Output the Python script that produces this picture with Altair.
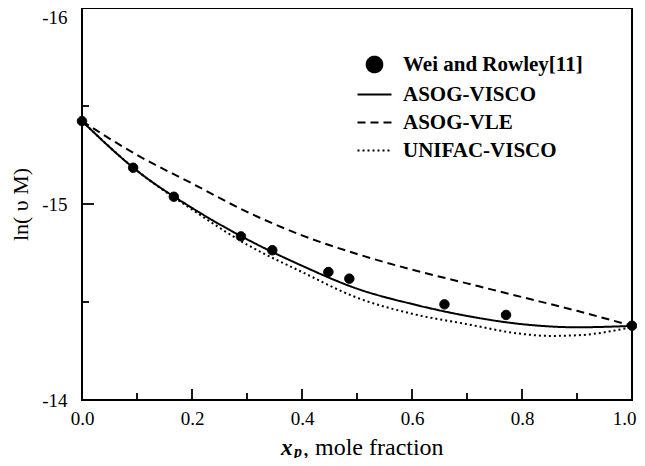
import altair as alt
import pandas as pd

FONT = "Liberation Serif"

# ---- data ----
series_names = ["Wei and Rowley[11]", "ASOG-VISCO", "ASOG-VLE", "UNIFAC-VISCO"]

x_pts = [0.0, 0.093, 0.167, 0.289, 0.346, 0.448, 0.486, 0.659, 0.771, 1.0]
y_pts = [-15.423, -15.185, -15.037, -14.835, -14.764, -14.653, -14.619, -14.488, -14.434, -14.379]

x_grid = [0.0, 0.1, 0.2, 0.3, 0.4, 0.5, 0.6, 0.7, 0.8, 0.9, 1.0]
asog_visco = [-15.423, -15.17, -14.98, -14.82, -14.685, -14.568, -14.49, -14.429, -14.387, -14.371, -14.378]
asog_vle = [-15.423, -15.25, -15.105, -14.96, -14.84, -14.745, -14.665, -14.595, -14.525, -14.455, -14.378]
unifac_x = [0.0, 0.1, 0.2, 0.3, 0.4, 0.5, 0.6, 0.7, 0.8, 0.85, 0.9, 1.0]
unifac_visco = [-15.423, -15.17, -14.972, -14.793, -14.653, -14.522, -14.44, -14.387, -14.337, -14.327, -14.33, -14.372]

x_major = [0.0, 0.2, 0.4, 0.6, 0.8, 1.0]
x_minor = [0.1, 0.3, 0.5, 0.7, 0.9]
y_major = [-16, -15, -14]
y_minor = [-15.5, -14.5]

# ---- tables ----
pts = pd.DataFrame({"x": x_pts, "y": y_pts, "series": series_names[0]})
lines = pd.concat([
    pd.DataFrame({"x": x_grid, "y": asog_visco, "series": series_names[1]}),
    pd.DataFrame({"x": x_grid, "y": asog_vle, "series": series_names[2]}),
    pd.DataFrame({"x": unifac_x, "y": unifac_visco, "series": series_names[3]}),
])
xt_major = pd.DataFrame({"x": x_major})
xt_minor = pd.DataFrame({"x": x_minor})
yt_major = pd.DataFrame({"y": y_major})
yt_minor = pd.DataFrame({"y": y_minor})
one = pd.DataFrame({"a": [0]})

W, H = 550, 392

xscale = alt.Scale(domain=[0, 1], nice=False, zero=False)
yscale = alt.Scale(domain=[-16, -14], reverse=True, nice=False, zero=False)

xaxis = alt.Axis(values=x_major, format=".1f", ticks=False, domain=False, grid=False,
                 labelFont=FONT, labelFontSize=19, labelColor="black", labelPadding=9,
                 labelFlush=False,
                 labelAlign={"condition": {"test": "datum.value == 1", "value": "right"},
                             "value": "center"},
                 labelOffset={"condition": {"test": "datum.value == 1", "value": 4},
                              "value": 0},
                 title=None)
yaxis = alt.Axis(values=y_major, labelExpr="'' + datum.value", ticks=False, domain=False,
                 grid=False, labelFont=FONT, labelFontSize=19, labelColor="black",
                 labelPadding=15, labelFlush=False,
                 labelBaseline={"condition": {"test": "datum.value == -16", "value": "top"},
                                "value": "middle"},
                 title="ln( \u03c5 M)", titleFont=FONT, titleFontSize=22,
                 titleFontWeight="normal", titleColor="black", titleX=-62, titleY=196,
                 titleBaseline="middle")


def X(f):
    return alt.X(f"{f}:Q", scale=xscale, axis=xaxis)


def Y(f):
    return alt.Y(f"{f}:Q", scale=yscale, axis=yaxis)


circle_path = "M-0.92,0A0.92,0.92 0 1,0 0.92,0A0.92,0.92 0 1,0 -0.92,0Z"
line_path = "M-2,0L2,0"

legend = alt.Legend(title=None, orient="none", legendX=282, legendY=46,
                    labelFont=FONT, labelFontSize=21, labelFontWeight="bold",
                    labelColor="black", labelLimit=400, symbolSize=289, symbolStrokeWidth=2,
                    rowPadding=6, labelOffset=18, padding=0)

tick_kw = dict(color="black", strokeWidth=1.8)
xmaj = alt.Chart(xt_major).mark_rule(**tick_kw).encode(x=X("x"), y=alt.value(H), y2=alt.value(H - 11))
xmin = alt.Chart(xt_minor).mark_rule(**tick_kw).encode(x=X("x"), y=alt.value(H), y2=alt.value(H - 7))
ymaj = alt.Chart(yt_major).mark_rule(**tick_kw).encode(y=Y("y"), x=alt.value(0), x2=alt.value(12))
ymin = alt.Chart(yt_minor).mark_rule(**tick_kw).encode(y=Y("y"), x=alt.value(0), x2=alt.value(7))

dash_scale = alt.Scale(domain=series_names, range=[[1, 0], [1, 0], [8, 5], [2, 3]])

line_layer = alt.Chart(lines).mark_line(color="black", strokeWidth=2, interpolate="monotone").encode(
    x=X("x"), y=Y("y"),
    strokeDash=alt.StrokeDash("series:N", scale=dash_scale, legend=None),
)

point_layer = alt.Chart(pts).mark_point(filled=False, fill="black", stroke="black",
                                        strokeWidth=1, opacity=1, fillOpacity=1,
                                        size=105).encode(
    x=X("x"), y=Y("y"),
    shape=alt.Shape("series:N",
                    scale=alt.Scale(domain=series_names,
                                    range=[circle_path, line_path, line_path, line_path]),
                    legend=legend),
    strokeDash=alt.StrokeDash("series:N", scale=dash_scale, legend=legend),
)

t_x = alt.Chart(one).mark_text(text="x", font=FONT, fontSize=23, fontStyle="italic",
                               fontWeight="bold", align="left", baseline="alphabetic",
                               color="black").encode(x=alt.value(199), y=alt.value(447))
t_p = alt.Chart(one).mark_text(text="p", font=FONT, fontSize=16, fontStyle="italic",
                               fontWeight="bold", align="left", baseline="alphabetic",
                               color="black").encode(x=alt.value(212), y=alt.value(449))
t_rest = alt.Chart(one).mark_text(text=", mole fraction", font=FONT, fontSize=24,
                                  align="left", baseline="alphabetic",
                                  color="black").encode(x=alt.value(221), y=alt.value(447))

chart = alt.layer(xmaj, xmin, ymaj, ymin, point_layer, line_layer, t_x, t_p, t_rest).properties(
    width=W, height=H,
    autosize=alt.AutoSizeParams(type="none"),
    padding={"left": 74, "top": 0, "right": 5, "bottom": 58},
    background="white",
).configure_view(stroke="black", strokeWidth=2)

chart.save("out.html", embed_options={"renderer": "svg", "actions": False})
